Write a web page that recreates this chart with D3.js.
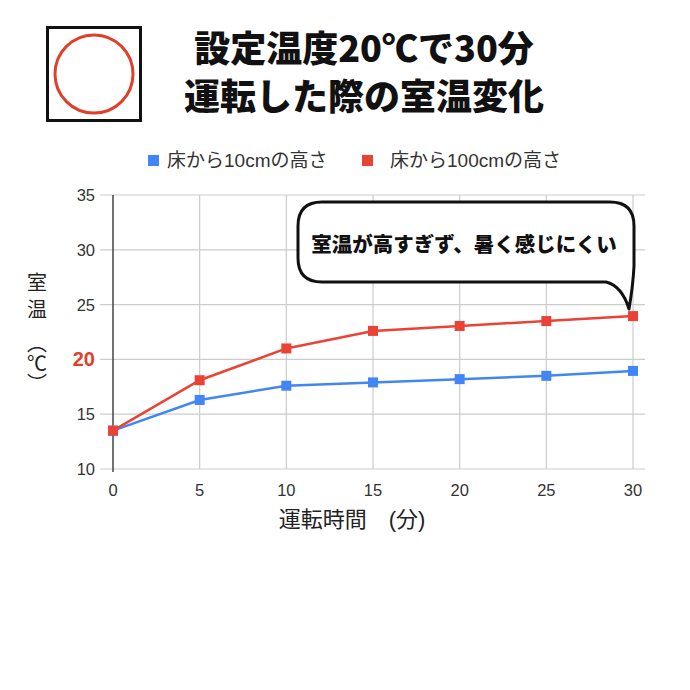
<!DOCTYPE html>
<html><head><meta charset="utf-8">
<script src="https://cdn.jsdelivr.net/npm/d3@7"></script>
<style>body{margin:0;background:#fff}svg{display:block}</style>
</head><body>
<script>
const minutes = [0,5,10,15,20,25,30];
const low10 = [13.5,16.3,17.6,17.9,18.2,18.5,18.95];
const high100 = [13.5,18.1,21.0,22.6,23.05,23.5,23.95];
const yTicks = [10,15,20,25,30,35];
const seriesNames = ["床から10cmの高さ","床から100cmの高さ"];
const colors = ["#4285F4","#EA4335"];
const titleLines = ["設定温度20℃で30分","運転した際の室温変化"];
const calloutText = "室温が高すぎず、暑く感じにくい";

const W=690,H=690;
const svg=d3.select("body").append("svg").attr("width",W).attr("height",H);
const JP='"Noto Sans CJK JP","Noto Sans",sans-serif';
const AR='"Liberation Sans",Arial,"Noto Sans CJK JP",sans-serif';

// icon box
svg.append("rect").attr("x",47.5).attr("y",27.5).attr("width",93).attr("height",93)
  .attr("fill","#fff").attr("stroke","#111").attr("stroke-width",3);
svg.append("circle").attr("cx",94).attr("cy",74).attr("r",39)
  .attr("fill","none").attr("stroke","#E0402A").attr("stroke-width",3);

// title
titleLines.forEach((t,i)=>{
  svg.append("text").attr("x",364).attr("y",62+i*48).attr("text-anchor","middle")
   .attr("font-family",JP).attr("font-weight",900).attr("font-size",36).attr("fill","#111").text(t);
});

// legend
const lg=[{x:148,tx:167},{x:362,tx:390}];
seriesNames.forEach((n,i)=>{
  svg.append("rect").attr("x",lg[i].x).attr("y",155).attr("width",11).attr("height",11).attr("fill",colors[i]);
  svg.append("text").attr("x",lg[i].tx).attr("y",167).attr("font-family",AR).attr("font-size",19)
    .attr("fill","#333").text(n);
});

const x=d3.scaleLinear().domain([0,30]).range([113,633]);
const y=d3.scaleLinear().domain([10,35]).range([469,195]);

// grid
const g=svg.append("g");
g.selectAll(".hg").data(yTicks).join("line").attr("x1",100).attr("x2",645)
  .attr("y1",d=>y(d)).attr("y2",d=>y(d)).attr("stroke","#ccc").attr("stroke-width",1.2);
g.selectAll(".vg").data(minutes.slice(1)).join("line").attr("x1",d=>x(d)).attr("x2",d=>x(d))
  .attr("y1",y(35)).attr("y2",y(10)).attr("stroke","#ccc").attr("stroke-width",1.2);
g.append("line").attr("x1",x(0)).attr("x2",x(0)).attr("y1",y(35)).attr("y2",y(10)+3)
  .attr("stroke","#444").attr("stroke-width",1.5);

// y ticks
yTicks.forEach(t=>{
  const is20=t===20;
  svg.append("text").attr("x",95).attr("y",y(t)+(is20?7:6)).attr("text-anchor","end")
    .attr("font-family",AR).attr("font-size",is20?20:16.5).attr("font-weight",is20?700:400)
    .attr("fill",is20?"#E0402A":"#333").text(t);
});
// x ticks
minutes.forEach(t=>{
  svg.append("text").attr("x",x(t)).attr("y",496).attr("text-anchor","middle")
    .attr("font-family",AR).attr("font-size",16.5).attr("fill","#333").text(t);
});
svg.append("text").attr("x",352).attr("y",527).attr("text-anchor","middle")
  .attr("font-family",AR).attr("font-size",22).attr("fill","#222").text("運転時間　(分)");

// y label vertical
svg.append("text").attr("x",37).attr("y",272).attr("writing-mode","vertical-rl")
  .attr("font-family",JP).attr("font-size",20).attr("letter-spacing",7).attr("fill","#222").text("室温");
svg.append("text").attr("x",37).attr("y",333).attr("writing-mode","vertical-rl")
  .attr("text-orientation","upright")
  .attr("font-family",JP).attr("font-size",20).attr("fill","#222").text("︵℃︶");

// lines
const line=d3.line().x((d,i)=>x(minutes[i])).y(d=>y(d));
[low10,high100].forEach((s,k)=>{
  svg.append("path").attr("d",line(s)).attr("fill","none").attr("stroke",colors[k]).attr("stroke-width",2.5);
  svg.selectAll(null).data(s).join("rect").attr("x",(d,i)=>x(minutes[i])-5).attr("y",d=>y(d)-5)
    .attr("width",10).attr("height",10).attr("fill",colors[k]);
});

// callout
const bx=298,by=202,bw=336,bh=80,r=24;
const tipX=629,tipY=309;
const p=d3.path();
p.moveTo(bx+r,by);
p.lineTo(bx+bw-r,by);
p.quadraticCurveTo(bx+bw,by,bx+bw,by+r);
p.lineTo(bx+bw,by+bh-16);
p.quadraticCurveTo(bx+bw-1,by+bh+4,tipX,tipY);
p.quadraticCurveTo(bx+bw-12,by+bh+4,bx+bw-28,by+bh);
p.lineTo(bx+r,by+bh);
p.quadraticCurveTo(bx,by+bh,bx,by+bh-r);
p.lineTo(bx,by+r);
p.quadraticCurveTo(bx,by,bx+r,by);
p.closePath();
svg.append("path").attr("d",p.toString()).attr("fill","#fff").attr("stroke","#111").attr("stroke-width",3).attr("stroke-linejoin","round");
svg.append("text").attr("x",464).attr("y",252).attr("text-anchor","middle")
  .attr("font-family",JP).attr("font-weight",900).attr("font-size",20.5).attr("fill","#111").text(calloutText);
</script>
</body></html>
